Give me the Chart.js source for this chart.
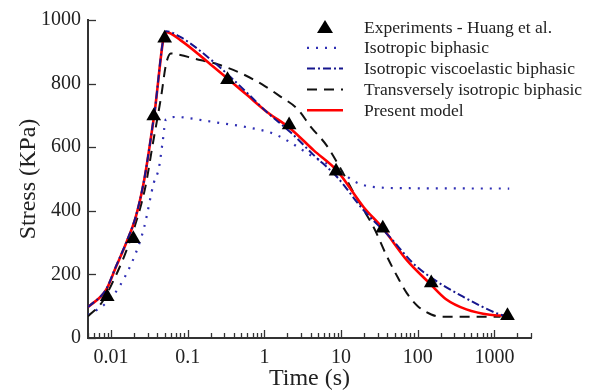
<!DOCTYPE html>
<html>
<head>
<meta charset="utf-8">
<script src="https://cdn.jsdelivr.net/npm/chart.js@4.4.1/dist/chart.umd.min.js"></script>
<style>
  html, body { margin: 0; padding: 0; background: #fff; }
  #wrap { width: 590px; height: 390px; position: relative; }
</style>
</head>
<body>
<div id="wrap"><canvas id="myChart"></canvas></div>
<script>
/* global Chart */

// experiments - Huang et al.
let expTime = [0.0089, 0.0195, 0.036, 0.05, 0.33, 2.1, 8.6, 35, 150, 1480];
let expStress = [130, 312, 698, 943, 812, 670, 524, 345, 173, 70];

// isotropic biphasic (dotted)
let isoTime = [0.005, 0.0086, 0.0127, 0.021, 0.027, 0.036, 0.042, 0.047, 0.052, 0.073, 0.099, 0.218, 0.59, 1.3, 1.95, 4.4, 9.7, 14, 26, 78, 1560];
let isoStress = [72, 110, 160, 267, 348, 487, 534, 616, 688, 695, 692, 679, 663, 643, 622, 569, 527, 496, 475, 471, 470];

// isotropic viscoelastic biphasic (dash-dot)
let viscoTime = [0.005, 0.0086, 0.0116, 0.0157, 0.021, 0.027, 0.0365, 0.052, 0.081, 0.218, 0.36, 0.6, 1.08, 2.17, 4.4, 8.8, 19.6, 43, 87, 143, 390, 1150, 1500];
let viscoStress = [97, 153, 226, 300, 383, 498, 702, 965, 946, 868, 821, 770, 710, 648, 575, 507, 402, 318, 235, 193, 130, 75, 68];

// transversely isotropic biphasic (dashed)
let transTime = [0.005, 0.0075, 0.01, 0.015, 0.02, 0.028, 0.035, 0.045, 0.052, 0.06, 0.08, 0.12, 0.25, 0.5, 1, 1.6, 2.7, 4, 6.5, 10, 14, 20, 27, 39, 55, 72, 100, 150, 200, 1200];
let transStress = [68, 110, 165, 260, 345, 475, 610, 760, 860, 895, 890, 879, 860, 832, 793, 760, 720, 665, 605, 530, 465, 400, 345, 260, 190, 141, 100, 74, 67, 67];

// present model (solid red)
let modelTime = [0.005, 0.0086, 0.0116, 0.0157, 0.021, 0.027, 0.0365, 0.052, 0.081, 0.218, 0.33, 0.6, 1.08, 2.17, 4.4, 8.8, 19.6, 35, 72, 143, 234, 431, 870, 1500];
let modelStress = [97, 151, 224, 298, 381, 496, 700, 962, 936, 852, 816, 763, 711, 659, 590, 527, 412, 345, 245, 172, 122, 90, 73, 70];

let xTickLabels = [0.01, 0.1, 1, 10, 100, 1000];
let yTickLabels = [0, 200, 400, 600, 800, 1000];

function pts(xs, ys) {
  return xs.map(function (x, i) {
    return { x: x, y: ys[i] };
  });
}

const serif = "'Liberation Serif', 'Times New Roman', serif";
const axisColor = "#333";

// inward tick marks
const tickMarks = {
  id: "tickMarks",
  afterDatasetsDraw(chart) {
    const ctx = chart.ctx;
    const xs = chart.scales.x;
    const ys = chart.scales.y;
    const a = chart.chartArea;
    ctx.save();
    ctx.strokeStyle = axisColor;
    ctx.lineWidth = 1.3;
    for (let e = -3; e <= 3; e++) {
      for (let k = 1; k <= 9; k++) {
        let v = k * Math.pow(10, e);
        if (v < xs.min || v > xs.max) continue;
        let px = Math.round(xs.getPixelForValue(v)) + 0.5;
        let len = k === 1 ? 8 : 5;
        ctx.beginPath();
        ctx.moveTo(px, a.bottom);
        ctx.lineTo(px, a.bottom - len);
        ctx.stroke();
      }
    }
    yTickLabels.forEach(function (v) {
      let py = Math.round(ys.getPixelForValue(v)) + 0.5;
      ctx.beginPath();
      ctx.moveTo(a.left, py);
      ctx.lineTo(a.left + 8, py);
      ctx.stroke();
    });
    ctx.restore();
  },
};

// legend drawn inside the plot, top right
const boxLegend = {
  id: "boxLegend",
  afterDraw(chart) {
    const ctx = chart.ctx;
    const sx = 307;
    const tx = 364;
    let y = 27;
    ctx.save();
    ctx.font = "17.5px " + serif;
    ctx.textBaseline = "middle";
    chart.data.datasets.forEach(function (ds) {
      if (ds.showLine === false) {
        ctx.fillStyle = "#000";
        ctx.beginPath();
        ctx.moveTo(325, y - 7);
        ctx.lineTo(333, y + 6);
        ctx.lineTo(317, y + 6);
        ctx.closePath();
        ctx.fill();
      } else {
        ctx.strokeStyle = ds.borderColor;
        ctx.lineWidth = ds.borderWidth;
        ctx.setLineDash(ds.borderDash || []);
        ctx.beginPath();
        ctx.moveTo(sx, y);
        ctx.lineTo(sx + 36, y);
        ctx.stroke();
        ctx.setLineDash([]);
      }
      ctx.fillStyle = "#222";
      ctx.fillText(ds.label, tx, y + 1);
      y += 20.8;
    });
    ctx.restore();
  },
};

const ctx = document.getElementById("myChart");
const myChart = new Chart(ctx, {
  type: "line",
  data: {
    datasets: [
      {
        label: "Experiments - Huang et al.",
        data: pts(expTime, expStress),
        showLine: false,
        pointStyle: "triangle",
        pointRadius: 8.5,
        backgroundColor: "#000",
        borderColor: "#000",
        borderWidth: 0,
        order: 0,
      },
      {
        label: "Isotropic biphasic",
        data: pts(isoTime, isoStress),
        borderColor: "#2f2fb4",
        borderWidth: 2.2,
        borderDash: [2, 7],
        pointRadius: 0,
        cubicInterpolationMode: "monotone",
        order: 4,
      },
      {
        label: "Isotropic viscoelastic biphasic",
        data: pts(viscoTime, viscoStress),
        borderColor: "#16168e",
        borderWidth: 2,
        borderDash: [8, 3, 2, 3],
        pointRadius: 0,
        cubicInterpolationMode: "monotone",
        order: 1,
      },
      {
        label: "Transversely isotropic biphasic",
        data: pts(transTime, transStress),
        borderColor: "#111",
        borderWidth: 2,
        borderDash: [10, 7],
        pointRadius: 0,
        cubicInterpolationMode: "monotone",
        order: 3,
      },
      {
        label: "Present model",
        data: pts(modelTime, modelStress),
        borderColor: "#ff0000",
        borderWidth: 2.6,
        pointRadius: 0,
        cubicInterpolationMode: "monotone",
        order: 2,
      },
    ],
  },
  options: {
    responsive: true,
    maintainAspectRatio: false,
    animation: false,
    layout: { padding: { left: 14, right: 59, top: 20, bottom: 0 } },
    plugins: { legend: { display: false }, tooltip: { enabled: false } },
    scales: {
      x: {
        type: "logarithmic",
        min: 0.005,
        max: 3000,
        afterBuildTicks: function (scale) {
          scale.ticks = xTickLabels.map(function (v) {
            return { value: v };
          });
        },
        afterFit: function (scale) {
          scale.height = 52;
        },
        ticks: {
          autoSkip: false,
          maxRotation: 0,
          padding: 8,
          color: "#222",
          font: { family: serif, size: 20 },
          callback: function (v) {
            return String(v);
          },
        },
        grid: { display: false, drawTicks: false },
        border: { display: true, color: axisColor, width: 2 },
        title: {
          display: true,
          text: "Time (s)",
          color: "#222",
          font: { family: serif, size: 24 },
          padding: { top: 0, bottom: -3 },
        },
      },
      y: {
        min: 0,
        max: 1000,
        afterBuildTicks: function (scale) {
          scale.ticks = yTickLabels.map(function (v) {
            return { value: v };
          });
        },
        afterFit: function (scale) {
          scale.width = 74;
        },
        ticks: {
          padding: 7,
          color: "#222",
          font: { family: serif, size: 20 },
          callback: function (v) {
            return String(v);
          },
        },
        grid: { display: false, drawTicks: false },
        border: { display: true, color: axisColor, width: 2 },
        title: {
          display: true,
          text: "Stress (KPa)",
          color: "#222",
          font: { family: serif, size: 24 },
          padding: { top: 0, bottom: 0 },
        },
      },
    },
  },
  plugins: [tickMarks, boxLegend],
});
</script>
</body>
</html>
